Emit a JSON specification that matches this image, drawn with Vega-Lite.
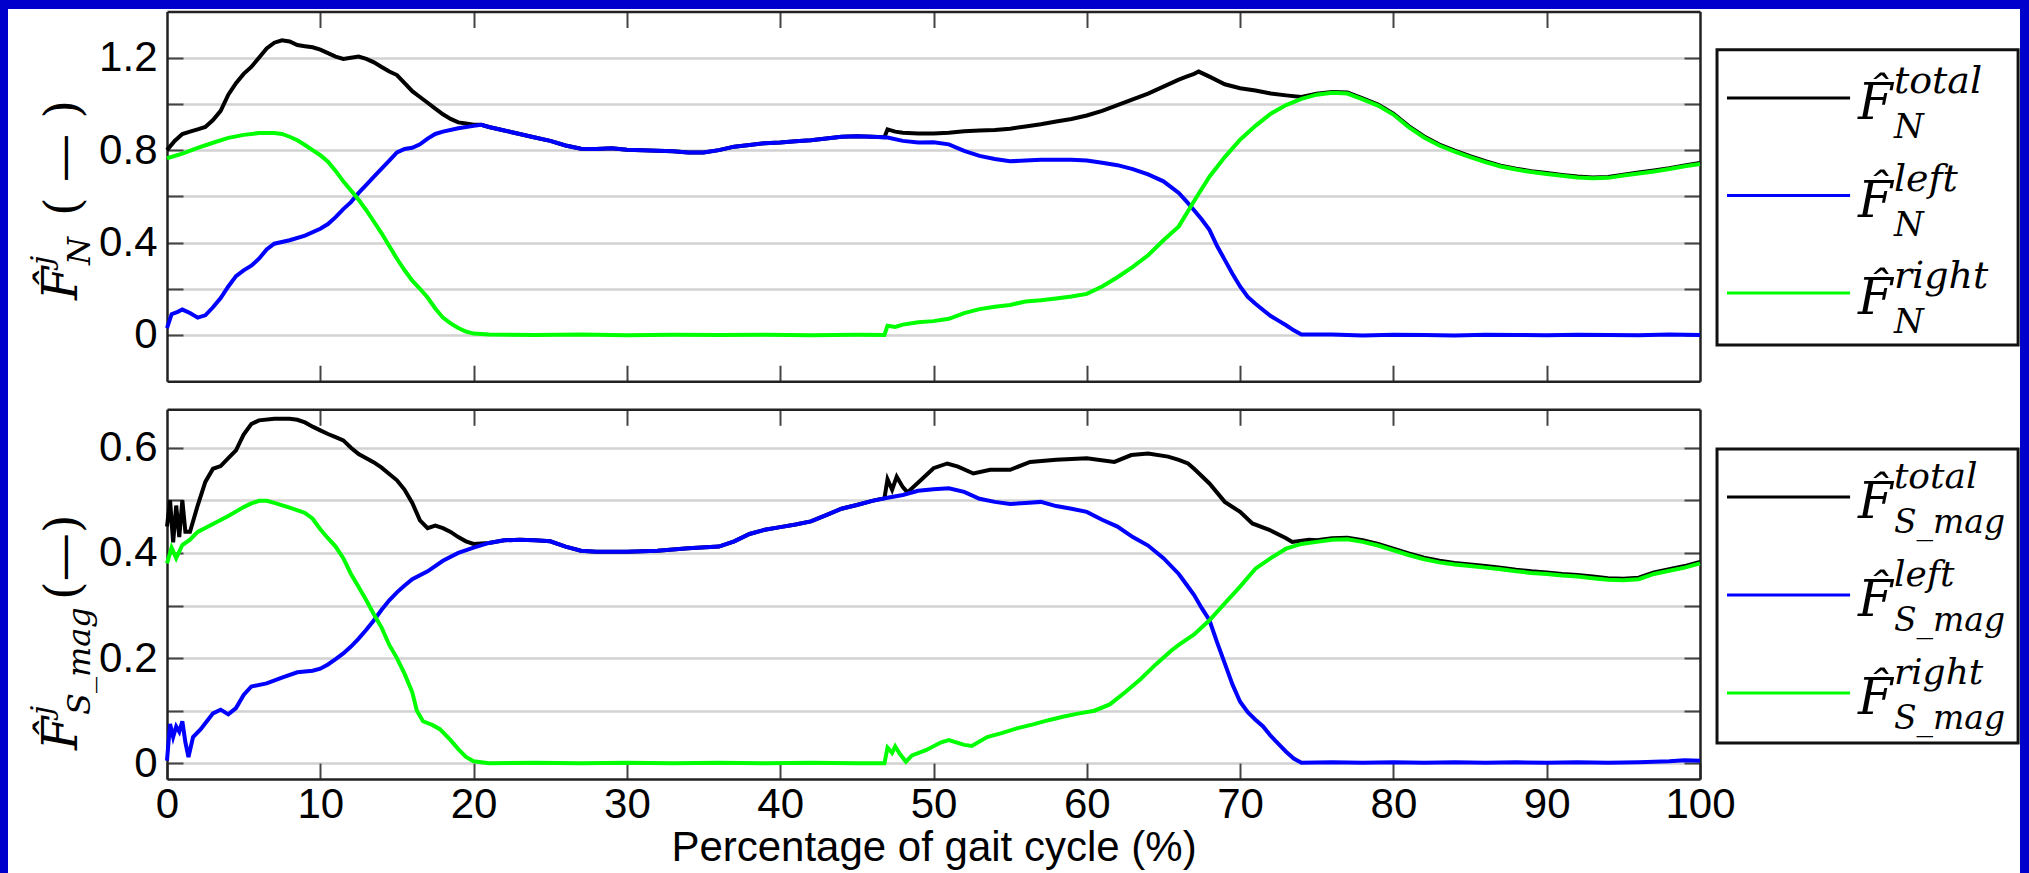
{
"$schema": "https://vega.github.io/schema/vega-lite/v6.json",
"width": 2012, "height": 864,
"autosize": {"type": "none"},
"padding": {"left": 8, "top": 9, "right": 9, "bottom": 0},
"background": "#0000cc",
"config": {
  "view": {"fill": "white", "stroke": null},
  "axis": {"labelFont": "Liberation Sans", "labelFontSize": 42, "labelColor": "#000000", "titleFont": "Liberation Sans", "titleFontSize": 42, "titleFontWeight": "normal", "titleColor": "#000000", "domainColor": "#222222", "domainWidth": 2.5, "tickColor": "#444444", "tickWidth": 2, "gridColor": "#d2d2d2", "gridWidth": 2.5, "labelFlush": false, "labelOverlap": false}
},
"datasets": {
"legend": [
 {"panel":"N","series":"total","sup":"total","sub":"N"},
 {"panel":"N","series":"left","sup":"left","sub":"N"},
 {"panel":"N","series":"right","sup":"right","sub":"N"},
 {"panel":"S","series":"total","sup":"total","sub":"S_mag"},
 {"panel":"S","series":"left","sup":"left","sub":"S_mag"},
 {"panel":"S","series":"right","sup":"right","sub":"S_mag"}
],
"titles": [{"panel":"N","sub":"N"},{"panel":"S","sub":"S_mag"}],
"curves": [
{"p":"N","s":"total","x":0,"y":0.8},{"p":"N","s":"total","x":0.5,"y":0.84},{"p":"N","s":"total","x":1,"y":0.87},{"p":"N","s":"total","x":1.5,"y":0.88},{"p":"N","s":"total","x":2,"y":0.89},{"p":"N","s":"total","x":2.5,"y":0.9},{"p":"N","s":"total","x":3,"y":0.93},{"p":"N","s":"total","x":3.5,"y":0.97},{"p":"N","s":"total","x":4,"y":1.04},{"p":"N","s":"total","x":4.5,"y":1.09},{"p":"N","s":"total","x":5,"y":1.13},{"p":"N","s":"total","x":5.5,"y":1.16},{"p":"N","s":"total","x":6,"y":1.2},{"p":"N","s":"total","x":6.5,"y":1.24},{"p":"N","s":"total","x":7,"y":1.265},{"p":"N","s":"total","x":7.5,"y":1.275},{"p":"N","s":"total","x":8,"y":1.27},{"p":"N","s":"total","x":8.5,"y":1.255},{"p":"N","s":"total","x":9,"y":1.25},{"p":"N","s":"total","x":9.5,"y":1.245},{"p":"N","s":"total","x":10,"y":1.235},{"p":"N","s":"total","x":10.5,"y":1.22},{"p":"N","s":"total","x":11,"y":1.205},{"p":"N","s":"total","x":11.5,"y":1.195},{"p":"N","s":"total","x":12,"y":1.2},{"p":"N","s":"total","x":12.5,"y":1.205},{"p":"N","s":"total","x":13,"y":1.195},{"p":"N","s":"total","x":13.5,"y":1.18},{"p":"N","s":"total","x":14,"y":1.16},{"p":"N","s":"total","x":14.5,"y":1.14},{"p":"N","s":"total","x":15,"y":1.125},{"p":"N","s":"total","x":15.5,"y":1.09},{"p":"N","s":"total","x":16,"y":1.055},{"p":"N","s":"total","x":16.5,"y":1.03},{"p":"N","s":"total","x":17,"y":1.005},{"p":"N","s":"total","x":17.5,"y":0.98},{"p":"N","s":"total","x":18,"y":0.955},{"p":"N","s":"total","x":18.5,"y":0.935},{"p":"N","s":"total","x":19,"y":0.92},{"p":"N","s":"total","x":19.5,"y":0.915},{"p":"N","s":"total","x":20,"y":0.91},{"p":"N","s":"total","x":20.5,"y":0.91},{"p":"N","s":"total","x":21,"y":0.9},{"p":"N","s":"total","x":22,"y":0.885},{"p":"N","s":"total","x":23,"y":0.87},{"p":"N","s":"total","x":24,"y":0.855},{"p":"N","s":"total","x":25,"y":0.84},{"p":"N","s":"total","x":26,"y":0.82},{"p":"N","s":"total","x":27,"y":0.806},{"p":"N","s":"total","x":28,"y":0.805},{"p":"N","s":"total","x":29,"y":0.808},{"p":"N","s":"total","x":30,"y":0.802},{"p":"N","s":"total","x":31,"y":0.8},{"p":"N","s":"total","x":32,"y":0.797},{"p":"N","s":"total","x":33,"y":0.795},{"p":"N","s":"total","x":34,"y":0.79},{"p":"N","s":"total","x":35,"y":0.79},{"p":"N","s":"total","x":36,"y":0.8},{"p":"N","s":"total","x":37,"y":0.815},{"p":"N","s":"total","x":38,"y":0.822},{"p":"N","s":"total","x":39,"y":0.83},{"p":"N","s":"total","x":40,"y":0.833},{"p":"N","s":"total","x":41,"y":0.838},{"p":"N","s":"total","x":42,"y":0.843},{"p":"N","s":"total","x":43,"y":0.85},{"p":"N","s":"total","x":44,"y":0.858},{"p":"N","s":"total","x":45,"y":0.86},{"p":"N","s":"total","x":46,"y":0.858},{"p":"N","s":"total","x":46.8,"y":0.856},{"p":"N","s":"total","x":47,"y":0.89},{"p":"N","s":"total","x":47.5,"y":0.88},{"p":"N","s":"total","x":48,"y":0.875},{"p":"N","s":"total","x":49,"y":0.872},{"p":"N","s":"total","x":50,"y":0.872},{"p":"N","s":"total","x":51,"y":0.875},{"p":"N","s":"total","x":52,"y":0.882},{"p":"N","s":"total","x":53,"y":0.885},{"p":"N","s":"total","x":54,"y":0.887},{"p":"N","s":"total","x":55,"y":0.893},{"p":"N","s":"total","x":56,"y":0.902},{"p":"N","s":"total","x":57,"y":0.912},{"p":"N","s":"total","x":58,"y":0.924},{"p":"N","s":"total","x":59,"y":0.935},{"p":"N","s":"total","x":60,"y":0.95},{"p":"N","s":"total","x":61,"y":0.97},{"p":"N","s":"total","x":62,"y":0.995},{"p":"N","s":"total","x":63,"y":1.02},{"p":"N","s":"total","x":64,"y":1.045},{"p":"N","s":"total","x":65,"y":1.075},{"p":"N","s":"total","x":66,"y":1.105},{"p":"N","s":"total","x":66.5,"y":1.118},{"p":"N","s":"total","x":67,"y":1.13},{"p":"N","s":"total","x":67.3,"y":1.14},{"p":"N","s":"total","x":68,"y":1.118},{"p":"N","s":"total","x":69,"y":1.085},{"p":"N","s":"total","x":70,"y":1.068},{"p":"N","s":"total","x":71,"y":1.058},{"p":"N","s":"total","x":72,"y":1.045},{"p":"N","s":"total","x":73,"y":1.037},{"p":"N","s":"total","x":74,"y":1.03},{"p":"N","s":"total","x":75,"y":1.044},{"p":"N","s":"total","x":76,"y":1.052},{"p":"N","s":"total","x":77,"y":1.049},{"p":"N","s":"total","x":78,"y":1.024},{"p":"N","s":"total","x":79,"y":0.997},{"p":"N","s":"total","x":80,"y":0.958},{"p":"N","s":"total","x":81,"y":0.904},{"p":"N","s":"total","x":82,"y":0.859},{"p":"N","s":"total","x":83,"y":0.824},{"p":"N","s":"total","x":84,"y":0.798},{"p":"N","s":"total","x":85,"y":0.774},{"p":"N","s":"total","x":86,"y":0.752},{"p":"N","s":"total","x":87,"y":0.733},{"p":"N","s":"total","x":88,"y":0.72},{"p":"N","s":"total","x":89,"y":0.709},{"p":"N","s":"total","x":90,"y":0.701},{"p":"N","s":"total","x":91,"y":0.693},{"p":"N","s":"total","x":92,"y":0.686},{"p":"N","s":"total","x":93,"y":0.682},{"p":"N","s":"total","x":94,"y":0.684},{"p":"N","s":"total","x":95,"y":0.694},{"p":"N","s":"total","x":96,"y":0.703},{"p":"N","s":"total","x":97,"y":0.712},{"p":"N","s":"total","x":98,"y":0.722},{"p":"N","s":"total","x":99,"y":0.734},{"p":"N","s":"total","x":100,"y":0.744},
{"p":"N","s":"left","x":0,"y":0.03},{"p":"N","s":"left","x":0.3,"y":0.09},{"p":"N","s":"left","x":0.7,"y":0.1},{"p":"N","s":"left","x":1,"y":0.11},{"p":"N","s":"left","x":1.5,"y":0.095},{"p":"N","s":"left","x":2,"y":0.075},{"p":"N","s":"left","x":2.5,"y":0.085},{"p":"N","s":"left","x":3,"y":0.12},{"p":"N","s":"left","x":3.5,"y":0.16},{"p":"N","s":"left","x":4,"y":0.21},{"p":"N","s":"left","x":4.5,"y":0.255},{"p":"N","s":"left","x":5,"y":0.28},{"p":"N","s":"left","x":5.5,"y":0.3},{"p":"N","s":"left","x":6,"y":0.33},{"p":"N","s":"left","x":6.5,"y":0.37},{"p":"N","s":"left","x":7,"y":0.395},{"p":"N","s":"left","x":8,"y":0.41},{"p":"N","s":"left","x":9,"y":0.43},{"p":"N","s":"left","x":10,"y":0.46},{"p":"N","s":"left","x":10.5,"y":0.48},{"p":"N","s":"left","x":11,"y":0.51},{"p":"N","s":"left","x":11.5,"y":0.545},{"p":"N","s":"left","x":12,"y":0.575},{"p":"N","s":"left","x":12.5,"y":0.615},{"p":"N","s":"left","x":13,"y":0.65},{"p":"N","s":"left","x":13.5,"y":0.685},{"p":"N","s":"left","x":14,"y":0.72},{"p":"N","s":"left","x":14.5,"y":0.755},{"p":"N","s":"left","x":15,"y":0.79},{"p":"N","s":"left","x":15.5,"y":0.805},{"p":"N","s":"left","x":16,"y":0.81},{"p":"N","s":"left","x":16.5,"y":0.825},{"p":"N","s":"left","x":17,"y":0.85},{"p":"N","s":"left","x":17.5,"y":0.87},{"p":"N","s":"left","x":18,"y":0.88},{"p":"N","s":"left","x":19,"y":0.895},{"p":"N","s":"left","x":20,"y":0.905},{"p":"N","s":"left","x":20.5,"y":0.91},{"p":"N","s":"left","x":21,"y":0.9},{"p":"N","s":"left","x":22,"y":0.885},{"p":"N","s":"left","x":23,"y":0.87},{"p":"N","s":"left","x":24,"y":0.855},{"p":"N","s":"left","x":25,"y":0.84},{"p":"N","s":"left","x":26,"y":0.82},{"p":"N","s":"left","x":27,"y":0.806},{"p":"N","s":"left","x":28,"y":0.805},{"p":"N","s":"left","x":29,"y":0.808},{"p":"N","s":"left","x":30,"y":0.802},{"p":"N","s":"left","x":31,"y":0.8},{"p":"N","s":"left","x":32,"y":0.797},{"p":"N","s":"left","x":33,"y":0.795},{"p":"N","s":"left","x":34,"y":0.79},{"p":"N","s":"left","x":35,"y":0.79},{"p":"N","s":"left","x":36,"y":0.8},{"p":"N","s":"left","x":37,"y":0.815},{"p":"N","s":"left","x":38,"y":0.822},{"p":"N","s":"left","x":39,"y":0.83},{"p":"N","s":"left","x":40,"y":0.833},{"p":"N","s":"left","x":41,"y":0.838},{"p":"N","s":"left","x":42,"y":0.843},{"p":"N","s":"left","x":43,"y":0.85},{"p":"N","s":"left","x":44,"y":0.858},{"p":"N","s":"left","x":45,"y":0.86},{"p":"N","s":"left","x":46,"y":0.858},{"p":"N","s":"left","x":47,"y":0.855},{"p":"N","s":"left","x":48,"y":0.84},{"p":"N","s":"left","x":49,"y":0.833},{"p":"N","s":"left","x":50,"y":0.834},{"p":"N","s":"left","x":51,"y":0.825},{"p":"N","s":"left","x":52,"y":0.797},{"p":"N","s":"left","x":53,"y":0.775},{"p":"N","s":"left","x":54,"y":0.762},{"p":"N","s":"left","x":55,"y":0.752},{"p":"N","s":"left","x":56,"y":0.755},{"p":"N","s":"left","x":57,"y":0.758},{"p":"N","s":"left","x":58,"y":0.758},{"p":"N","s":"left","x":59,"y":0.758},{"p":"N","s":"left","x":60,"y":0.755},{"p":"N","s":"left","x":61,"y":0.745},{"p":"N","s":"left","x":62,"y":0.735},{"p":"N","s":"left","x":63,"y":0.718},{"p":"N","s":"left","x":64,"y":0.695},{"p":"N","s":"left","x":65,"y":0.665},{"p":"N","s":"left","x":66,"y":0.615},{"p":"N","s":"left","x":66.5,"y":0.578},{"p":"N","s":"left","x":67,"y":0.54},{"p":"N","s":"left","x":67.5,"y":0.5},{"p":"N","s":"left","x":68,"y":0.455},{"p":"N","s":"left","x":68.5,"y":0.385},{"p":"N","s":"left","x":69,"y":0.325},{"p":"N","s":"left","x":69.5,"y":0.265},{"p":"N","s":"left","x":70,"y":0.21},{"p":"N","s":"left","x":70.5,"y":0.165},{"p":"N","s":"left","x":71,"y":0.135},{"p":"N","s":"left","x":71.5,"y":0.108},{"p":"N","s":"left","x":72,"y":0.082},{"p":"N","s":"left","x":72.5,"y":0.062},{"p":"N","s":"left","x":73,"y":0.042},{"p":"N","s":"left","x":73.5,"y":0.02},{"p":"N","s":"left","x":74,"y":0.002},{"p":"N","s":"left","x":76,"y":0.002},{"p":"N","s":"left","x":78,"y":-0.002},{"p":"N","s":"left","x":80,"y":0.001},{"p":"N","s":"left","x":82,"y":0},{"p":"N","s":"left","x":84,"y":-0.002},{"p":"N","s":"left","x":86,"y":0.001},{"p":"N","s":"left","x":88,"y":0},{"p":"N","s":"left","x":90,"y":-0.001},{"p":"N","s":"left","x":92,"y":0.001},{"p":"N","s":"left","x":94,"y":0},{"p":"N","s":"left","x":96,"y":-0.001},{"p":"N","s":"left","x":98,"y":0.002},{"p":"N","s":"left","x":100,"y":0},
{"p":"N","s":"right","x":0,"y":0.765},{"p":"N","s":"right","x":1,"y":0.785},{"p":"N","s":"right","x":2,"y":0.81},{"p":"N","s":"right","x":3,"y":0.832},{"p":"N","s":"right","x":4,"y":0.853},{"p":"N","s":"right","x":5,"y":0.866},{"p":"N","s":"right","x":6,"y":0.874},{"p":"N","s":"right","x":7,"y":0.874},{"p":"N","s":"right","x":7.5,"y":0.87},{"p":"N","s":"right","x":8,"y":0.858},{"p":"N","s":"right","x":8.5,"y":0.843},{"p":"N","s":"right","x":9,"y":0.822},{"p":"N","s":"right","x":9.5,"y":0.8},{"p":"N","s":"right","x":10,"y":0.778},{"p":"N","s":"right","x":10.5,"y":0.75},{"p":"N","s":"right","x":11,"y":0.71},{"p":"N","s":"right","x":11.5,"y":0.665},{"p":"N","s":"right","x":12,"y":0.625},{"p":"N","s":"right","x":12.5,"y":0.585},{"p":"N","s":"right","x":13,"y":0.54},{"p":"N","s":"right","x":13.5,"y":0.49},{"p":"N","s":"right","x":14,"y":0.44},{"p":"N","s":"right","x":14.5,"y":0.385},{"p":"N","s":"right","x":15,"y":0.33},{"p":"N","s":"right","x":15.5,"y":0.28},{"p":"N","s":"right","x":16,"y":0.235},{"p":"N","s":"right","x":16.5,"y":0.2},{"p":"N","s":"right","x":17,"y":0.162},{"p":"N","s":"right","x":17.5,"y":0.115},{"p":"N","s":"right","x":18,"y":0.075},{"p":"N","s":"right","x":18.5,"y":0.05},{"p":"N","s":"right","x":19,"y":0.03},{"p":"N","s":"right","x":19.5,"y":0.015},{"p":"N","s":"right","x":20,"y":0.006},{"p":"N","s":"right","x":21,"y":0.002},{"p":"N","s":"right","x":24,"y":0},{"p":"N","s":"right","x":27,"y":0.002},{"p":"N","s":"right","x":30,"y":-0.001},{"p":"N","s":"right","x":33,"y":0.001},{"p":"N","s":"right","x":36,"y":0},{"p":"N","s":"right","x":39,"y":0.001},{"p":"N","s":"right","x":42,"y":-0.001},{"p":"N","s":"right","x":45,"y":0.001},{"p":"N","s":"right","x":46.8,"y":0},{"p":"N","s":"right","x":47,"y":0.04},{"p":"N","s":"right","x":47.5,"y":0.035},{"p":"N","s":"right","x":48,"y":0.045},{"p":"N","s":"right","x":49,"y":0.055},{"p":"N","s":"right","x":50,"y":0.06},{"p":"N","s":"right","x":51,"y":0.07},{"p":"N","s":"right","x":52,"y":0.095},{"p":"N","s":"right","x":53,"y":0.112},{"p":"N","s":"right","x":54,"y":0.122},{"p":"N","s":"right","x":55,"y":0.13},{"p":"N","s":"right","x":56,"y":0.145},{"p":"N","s":"right","x":57,"y":0.15},{"p":"N","s":"right","x":58,"y":0.158},{"p":"N","s":"right","x":59,"y":0.167},{"p":"N","s":"right","x":60,"y":0.178},{"p":"N","s":"right","x":61,"y":0.21},{"p":"N","s":"right","x":62,"y":0.25},{"p":"N","s":"right","x":63,"y":0.295},{"p":"N","s":"right","x":64,"y":0.345},{"p":"N","s":"right","x":65,"y":0.41},{"p":"N","s":"right","x":66,"y":0.47},{"p":"N","s":"right","x":67,"y":0.58},{"p":"N","s":"right","x":68,"y":0.685},{"p":"N","s":"right","x":69,"y":0.77},{"p":"N","s":"right","x":70,"y":0.845},{"p":"N","s":"right","x":71,"y":0.905},{"p":"N","s":"right","x":72,"y":0.958},{"p":"N","s":"right","x":73,"y":0.995},{"p":"N","s":"right","x":74,"y":1.022},{"p":"N","s":"right","x":75,"y":1.04},{"p":"N","s":"right","x":76,"y":1.048},{"p":"N","s":"right","x":77,"y":1.045},{"p":"N","s":"right","x":78,"y":1.02},{"p":"N","s":"right","x":79,"y":0.993},{"p":"N","s":"right","x":80,"y":0.954},{"p":"N","s":"right","x":81,"y":0.9},{"p":"N","s":"right","x":82,"y":0.855},{"p":"N","s":"right","x":83,"y":0.82},{"p":"N","s":"right","x":84,"y":0.794},{"p":"N","s":"right","x":85,"y":0.77},{"p":"N","s":"right","x":86,"y":0.748},{"p":"N","s":"right","x":87,"y":0.729},{"p":"N","s":"right","x":88,"y":0.716},{"p":"N","s":"right","x":89,"y":0.705},{"p":"N","s":"right","x":90,"y":0.697},{"p":"N","s":"right","x":91,"y":0.689},{"p":"N","s":"right","x":92,"y":0.682},{"p":"N","s":"right","x":93,"y":0.678},{"p":"N","s":"right","x":94,"y":0.68},{"p":"N","s":"right","x":95,"y":0.69},{"p":"N","s":"right","x":96,"y":0.699},{"p":"N","s":"right","x":97,"y":0.708},{"p":"N","s":"right","x":98,"y":0.718},{"p":"N","s":"right","x":99,"y":0.73},{"p":"N","s":"right","x":100,"y":0.74},
{"p":"S","s":"total","x":0,"y":0.45},{"p":"S","s":"total","x":0.2,"y":0.5},{"p":"S","s":"total","x":0.4,"y":0.42},{"p":"S","s":"total","x":0.6,"y":0.49},{"p":"S","s":"total","x":0.8,"y":0.43},{"p":"S","s":"total","x":1,"y":0.5},{"p":"S","s":"total","x":1.2,"y":0.44},{"p":"S","s":"total","x":1.5,"y":0.44},{"p":"S","s":"total","x":2,"y":0.49},{"p":"S","s":"total","x":2.5,"y":0.535},{"p":"S","s":"total","x":3,"y":0.56},{"p":"S","s":"total","x":3.5,"y":0.565},{"p":"S","s":"total","x":4,"y":0.58},{"p":"S","s":"total","x":4.5,"y":0.595},{"p":"S","s":"total","x":5,"y":0.625},{"p":"S","s":"total","x":5.5,"y":0.645},{"p":"S","s":"total","x":6,"y":0.652},{"p":"S","s":"total","x":7,"y":0.655},{"p":"S","s":"total","x":8,"y":0.655},{"p":"S","s":"total","x":8.5,"y":0.653},{"p":"S","s":"total","x":9,"y":0.648},{"p":"S","s":"total","x":9.5,"y":0.64},{"p":"S","s":"total","x":10,"y":0.633},{"p":"S","s":"total","x":10.5,"y":0.626},{"p":"S","s":"total","x":11,"y":0.62},{"p":"S","s":"total","x":11.5,"y":0.614},{"p":"S","s":"total","x":12,"y":0.6},{"p":"S","s":"total","x":12.5,"y":0.588},{"p":"S","s":"total","x":13,"y":0.58},{"p":"S","s":"total","x":13.5,"y":0.572},{"p":"S","s":"total","x":14,"y":0.562},{"p":"S","s":"total","x":14.5,"y":0.55},{"p":"S","s":"total","x":15,"y":0.538},{"p":"S","s":"total","x":15.5,"y":0.52},{"p":"S","s":"total","x":16,"y":0.495},{"p":"S","s":"total","x":16.5,"y":0.462},{"p":"S","s":"total","x":17,"y":0.447},{"p":"S","s":"total","x":17.5,"y":0.452},{"p":"S","s":"total","x":18,"y":0.447},{"p":"S","s":"total","x":18.5,"y":0.44},{"p":"S","s":"total","x":19,"y":0.43},{"p":"S","s":"total","x":19.5,"y":0.422},{"p":"S","s":"total","x":20,"y":0.417},{"p":"S","s":"total","x":21,"y":0.419},{"p":"S","s":"total","x":22,"y":0.424},{"p":"S","s":"total","x":23,"y":0.425},{"p":"S","s":"total","x":24,"y":0.424},{"p":"S","s":"total","x":25,"y":0.422},{"p":"S","s":"total","x":26,"y":0.412},{"p":"S","s":"total","x":27,"y":0.404},{"p":"S","s":"total","x":28,"y":0.402},{"p":"S","s":"total","x":30,"y":0.402},{"p":"S","s":"total","x":32,"y":0.404},{"p":"S","s":"total","x":34,"y":0.409},{"p":"S","s":"total","x":36,"y":0.412},{"p":"S","s":"total","x":37,"y":0.422},{"p":"S","s":"total","x":38,"y":0.436},{"p":"S","s":"total","x":39,"y":0.444},{"p":"S","s":"total","x":40,"y":0.449},{"p":"S","s":"total","x":41,"y":0.454},{"p":"S","s":"total","x":42,"y":0.46},{"p":"S","s":"total","x":43,"y":0.472},{"p":"S","s":"total","x":44,"y":0.484},{"p":"S","s":"total","x":45,"y":0.491},{"p":"S","s":"total","x":46,"y":0.499},{"p":"S","s":"total","x":46.8,"y":0.504},{"p":"S","s":"total","x":47,"y":0.54},{"p":"S","s":"total","x":47.3,"y":0.52},{"p":"S","s":"total","x":47.6,"y":0.545},{"p":"S","s":"total","x":48,"y":0.525},{"p":"S","s":"total","x":48.3,"y":0.515},{"p":"S","s":"total","x":49.2,"y":0.539},{"p":"S","s":"total","x":50,"y":0.561},{"p":"S","s":"total","x":50.9,"y":0.57},{"p":"S","s":"total","x":51.6,"y":0.564},{"p":"S","s":"total","x":52.6,"y":0.551},{"p":"S","s":"total","x":53.7,"y":0.558},{"p":"S","s":"total","x":55,"y":0.558},{"p":"S","s":"total","x":56.3,"y":0.573},{"p":"S","s":"total","x":58,"y":0.577},{"p":"S","s":"total","x":60,"y":0.58},{"p":"S","s":"total","x":61.8,"y":0.573},{"p":"S","s":"total","x":62.9,"y":0.586},{"p":"S","s":"total","x":64,"y":0.589},{"p":"S","s":"total","x":65.3,"y":0.583},{"p":"S","s":"total","x":66,"y":0.577},{"p":"S","s":"total","x":66.6,"y":0.57},{"p":"S","s":"total","x":67,"y":0.56},{"p":"S","s":"total","x":68,"y":0.532},{"p":"S","s":"total","x":69,"y":0.497},{"p":"S","s":"total","x":70,"y":0.478},{"p":"S","s":"total","x":70.8,"y":0.456},{"p":"S","s":"total","x":71.9,"y":0.444},{"p":"S","s":"total","x":73,"y":0.428},{"p":"S","s":"total","x":73.4,"y":0.421},{"p":"S","s":"total","x":74.5,"y":0.425},{"p":"S","s":"total","x":75,"y":0.424},{"p":"S","s":"total","x":76,"y":0.428},{"p":"S","s":"total","x":77,"y":0.429},{"p":"S","s":"total","x":78,"y":0.424},{"p":"S","s":"total","x":79,"y":0.417},{"p":"S","s":"total","x":80,"y":0.408},{"p":"S","s":"total","x":81,"y":0.399},{"p":"S","s":"total","x":82,"y":0.391},{"p":"S","s":"total","x":83,"y":0.385},{"p":"S","s":"total","x":84,"y":0.381},{"p":"S","s":"total","x":85,"y":0.378},{"p":"S","s":"total","x":86,"y":0.375},{"p":"S","s":"total","x":87,"y":0.372},{"p":"S","s":"total","x":88,"y":0.368},{"p":"S","s":"total","x":89,"y":0.365},{"p":"S","s":"total","x":90,"y":0.363},{"p":"S","s":"total","x":91,"y":0.36},{"p":"S","s":"total","x":92,"y":0.358},{"p":"S","s":"total","x":93,"y":0.355},{"p":"S","s":"total","x":94,"y":0.352},{"p":"S","s":"total","x":95,"y":0.351},{"p":"S","s":"total","x":96,"y":0.353},{"p":"S","s":"total","x":97,"y":0.363},{"p":"S","s":"total","x":98,"y":0.369},{"p":"S","s":"total","x":99,"y":0.375},{"p":"S","s":"total","x":100,"y":0.383},
{"p":"S","s":"left","x":0,"y":0.005},{"p":"S","s":"left","x":0.2,"y":0.075},{"p":"S","s":"left","x":0.4,"y":0.05},{"p":"S","s":"left","x":0.6,"y":0.07},{"p":"S","s":"left","x":0.8,"y":0.06},{"p":"S","s":"left","x":1,"y":0.08},{"p":"S","s":"left","x":1.2,"y":0.04},{"p":"S","s":"left","x":1.4,"y":0.012},{"p":"S","s":"left","x":1.7,"y":0.05},{"p":"S","s":"left","x":2.2,"y":0.065},{"p":"S","s":"left","x":2.6,"y":0.08},{"p":"S","s":"left","x":3,"y":0.095},{"p":"S","s":"left","x":3.5,"y":0.102},{"p":"S","s":"left","x":4,"y":0.093},{"p":"S","s":"left","x":4.5,"y":0.105},{"p":"S","s":"left","x":5,"y":0.13},{"p":"S","s":"left","x":5.5,"y":0.146},{"p":"S","s":"left","x":6.5,"y":0.152},{"p":"S","s":"left","x":7.5,"y":0.163},{"p":"S","s":"left","x":8.5,"y":0.173},{"p":"S","s":"left","x":9.5,"y":0.176},{"p":"S","s":"left","x":10,"y":0.18},{"p":"S","s":"left","x":10.5,"y":0.188},{"p":"S","s":"left","x":11,"y":0.198},{"p":"S","s":"left","x":11.5,"y":0.209},{"p":"S","s":"left","x":12,"y":0.222},{"p":"S","s":"left","x":12.5,"y":0.237},{"p":"S","s":"left","x":13,"y":0.254},{"p":"S","s":"left","x":13.5,"y":0.272},{"p":"S","s":"left","x":14,"y":0.292},{"p":"S","s":"left","x":14.5,"y":0.31},{"p":"S","s":"left","x":15,"y":0.325},{"p":"S","s":"left","x":15.5,"y":0.338},{"p":"S","s":"left","x":16,"y":0.35},{"p":"S","s":"left","x":17,"y":0.365},{"p":"S","s":"left","x":18,"y":0.385},{"p":"S","s":"left","x":19,"y":0.4},{"p":"S","s":"left","x":20,"y":0.41},{"p":"S","s":"left","x":21,"y":0.419},{"p":"S","s":"left","x":22,"y":0.424},{"p":"S","s":"left","x":23,"y":0.425},{"p":"S","s":"left","x":24,"y":0.424},{"p":"S","s":"left","x":25,"y":0.422},{"p":"S","s":"left","x":26,"y":0.412},{"p":"S","s":"left","x":27,"y":0.404},{"p":"S","s":"left","x":28,"y":0.402},{"p":"S","s":"left","x":30,"y":0.402},{"p":"S","s":"left","x":32,"y":0.404},{"p":"S","s":"left","x":34,"y":0.409},{"p":"S","s":"left","x":36,"y":0.412},{"p":"S","s":"left","x":37,"y":0.422},{"p":"S","s":"left","x":38,"y":0.436},{"p":"S","s":"left","x":39,"y":0.444},{"p":"S","s":"left","x":40,"y":0.449},{"p":"S","s":"left","x":41,"y":0.454},{"p":"S","s":"left","x":42,"y":0.46},{"p":"S","s":"left","x":43,"y":0.472},{"p":"S","s":"left","x":44,"y":0.484},{"p":"S","s":"left","x":45,"y":0.491},{"p":"S","s":"left","x":46,"y":0.499},{"p":"S","s":"left","x":47,"y":0.505},{"p":"S","s":"left","x":48,"y":0.51},{"p":"S","s":"left","x":49,"y":0.518},{"p":"S","s":"left","x":50,"y":0.521},{"p":"S","s":"left","x":51,"y":0.523},{"p":"S","s":"left","x":52,"y":0.516},{"p":"S","s":"left","x":53,"y":0.503},{"p":"S","s":"left","x":54,"y":0.497},{"p":"S","s":"left","x":55,"y":0.493},{"p":"S","s":"left","x":56,"y":0.495},{"p":"S","s":"left","x":57,"y":0.497},{"p":"S","s":"left","x":58,"y":0.489},{"p":"S","s":"left","x":59,"y":0.484},{"p":"S","s":"left","x":60,"y":0.478},{"p":"S","s":"left","x":61,"y":0.463},{"p":"S","s":"left","x":62,"y":0.45},{"p":"S","s":"left","x":63,"y":0.43},{"p":"S","s":"left","x":64,"y":0.414},{"p":"S","s":"left","x":65,"y":0.39},{"p":"S","s":"left","x":66,"y":0.36},{"p":"S","s":"left","x":66.5,"y":0.34},{"p":"S","s":"left","x":67,"y":0.32},{"p":"S","s":"left","x":67.5,"y":0.295},{"p":"S","s":"left","x":68,"y":0.272},{"p":"S","s":"left","x":68.5,"y":0.23},{"p":"S","s":"left","x":69,"y":0.19},{"p":"S","s":"left","x":69.5,"y":0.15},{"p":"S","s":"left","x":70,"y":0.117},{"p":"S","s":"left","x":70.5,"y":0.097},{"p":"S","s":"left","x":71,"y":0.083},{"p":"S","s":"left","x":71.5,"y":0.07},{"p":"S","s":"left","x":72,"y":0.052},{"p":"S","s":"left","x":72.5,"y":0.037},{"p":"S","s":"left","x":73,"y":0.022},{"p":"S","s":"left","x":73.5,"y":0.009},{"p":"S","s":"left","x":74,"y":0.001},{"p":"S","s":"left","x":76,"y":0.002},{"p":"S","s":"left","x":78,"y":0.001},{"p":"S","s":"left","x":80,"y":0.002},{"p":"S","s":"left","x":82,"y":0.001},{"p":"S","s":"left","x":84,"y":0.002},{"p":"S","s":"left","x":86,"y":0.001},{"p":"S","s":"left","x":88,"y":0.002},{"p":"S","s":"left","x":90,"y":0.001},{"p":"S","s":"left","x":92,"y":0.002},{"p":"S","s":"left","x":94,"y":0.001},{"p":"S","s":"left","x":96,"y":0.002},{"p":"S","s":"left","x":98,"y":0.004},{"p":"S","s":"left","x":99,"y":0.006},{"p":"S","s":"left","x":100,"y":0.005},
{"p":"S","s":"right","x":0,"y":0.38},{"p":"S","s":"right","x":0.3,"y":0.41},{"p":"S","s":"right","x":0.6,"y":0.39},{"p":"S","s":"right","x":1,"y":0.415},{"p":"S","s":"right","x":1.5,"y":0.425},{"p":"S","s":"right","x":2,"y":0.44},{"p":"S","s":"right","x":3,"y":0.455},{"p":"S","s":"right","x":4,"y":0.47},{"p":"S","s":"right","x":5,"y":0.487},{"p":"S","s":"right","x":5.5,"y":0.494},{"p":"S","s":"right","x":6,"y":0.499},{"p":"S","s":"right","x":6.5,"y":0.499},{"p":"S","s":"right","x":7,"y":0.495},{"p":"S","s":"right","x":8,"y":0.486},{"p":"S","s":"right","x":9,"y":0.476},{"p":"S","s":"right","x":9.5,"y":0.465},{"p":"S","s":"right","x":10,"y":0.445},{"p":"S","s":"right","x":10.5,"y":0.428},{"p":"S","s":"right","x":11,"y":0.412},{"p":"S","s":"right","x":11.5,"y":0.39},{"p":"S","s":"right","x":12,"y":0.36},{"p":"S","s":"right","x":12.5,"y":0.335},{"p":"S","s":"right","x":13,"y":0.31},{"p":"S","s":"right","x":13.5,"y":0.283},{"p":"S","s":"right","x":14,"y":0.258},{"p":"S","s":"right","x":14.5,"y":0.225},{"p":"S","s":"right","x":15,"y":0.2},{"p":"S","s":"right","x":15.5,"y":0.17},{"p":"S","s":"right","x":16,"y":0.135},{"p":"S","s":"right","x":16.3,"y":0.1},{"p":"S","s":"right","x":16.7,"y":0.08},{"p":"S","s":"right","x":17.3,"y":0.073},{"p":"S","s":"right","x":17.8,"y":0.065},{"p":"S","s":"right","x":18.5,"y":0.044},{"p":"S","s":"right","x":19,"y":0.027},{"p":"S","s":"right","x":19.5,"y":0.012},{"p":"S","s":"right","x":20,"y":0.004},{"p":"S","s":"right","x":21,"y":0},{"p":"S","s":"right","x":24,"y":0.001},{"p":"S","s":"right","x":27,"y":0},{"p":"S","s":"right","x":30,"y":0.001},{"p":"S","s":"right","x":33,"y":0},{"p":"S","s":"right","x":36,"y":0.001},{"p":"S","s":"right","x":39,"y":0},{"p":"S","s":"right","x":42,"y":0.001},{"p":"S","s":"right","x":45,"y":0},{"p":"S","s":"right","x":46.8,"y":0},{"p":"S","s":"right","x":47,"y":0.03},{"p":"S","s":"right","x":47.3,"y":0.02},{"p":"S","s":"right","x":47.5,"y":0.032},{"p":"S","s":"right","x":47.8,"y":0.018},{"p":"S","s":"right","x":48.2,"y":0.003},{"p":"S","s":"right","x":48.6,"y":0.015},{"p":"S","s":"right","x":49.5,"y":0.025},{"p":"S","s":"right","x":50.5,"y":0.04},{"p":"S","s":"right","x":51,"y":0.044},{"p":"S","s":"right","x":52,"y":0.035},{"p":"S","s":"right","x":52.5,"y":0.033},{"p":"S","s":"right","x":53.5,"y":0.05},{"p":"S","s":"right","x":54.5,"y":0.058},{"p":"S","s":"right","x":55.5,"y":0.067},{"p":"S","s":"right","x":56.5,"y":0.074},{"p":"S","s":"right","x":57.5,"y":0.082},{"p":"S","s":"right","x":58.5,"y":0.089},{"p":"S","s":"right","x":59.5,"y":0.095},{"p":"S","s":"right","x":60.5,"y":0.1},{"p":"S","s":"right","x":61.5,"y":0.112},{"p":"S","s":"right","x":62.5,"y":0.135},{"p":"S","s":"right","x":63.5,"y":0.16},{"p":"S","s":"right","x":64.5,"y":0.188},{"p":"S","s":"right","x":65.5,"y":0.214},{"p":"S","s":"right","x":66,"y":0.225},{"p":"S","s":"right","x":67,"y":0.245},{"p":"S","s":"right","x":68,"y":0.272},{"p":"S","s":"right","x":69,"y":0.304},{"p":"S","s":"right","x":70,"y":0.336},{"p":"S","s":"right","x":71,"y":0.37},{"p":"S","s":"right","x":72,"y":0.39},{"p":"S","s":"right","x":73,"y":0.408},{"p":"S","s":"right","x":74,"y":0.417},{"p":"S","s":"right","x":75,"y":0.421},{"p":"S","s":"right","x":76,"y":0.425},{"p":"S","s":"right","x":77,"y":0.426},{"p":"S","s":"right","x":78,"y":0.421},{"p":"S","s":"right","x":79,"y":0.414},{"p":"S","s":"right","x":80,"y":0.405},{"p":"S","s":"right","x":81,"y":0.396},{"p":"S","s":"right","x":82,"y":0.388},{"p":"S","s":"right","x":83,"y":0.382},{"p":"S","s":"right","x":84,"y":0.378},{"p":"S","s":"right","x":85,"y":0.375},{"p":"S","s":"right","x":86,"y":0.372},{"p":"S","s":"right","x":87,"y":0.369},{"p":"S","s":"right","x":88,"y":0.365},{"p":"S","s":"right","x":89,"y":0.362},{"p":"S","s":"right","x":90,"y":0.36},{"p":"S","s":"right","x":91,"y":0.357},{"p":"S","s":"right","x":92,"y":0.355},{"p":"S","s":"right","x":93,"y":0.352},{"p":"S","s":"right","x":94,"y":0.349},{"p":"S","s":"right","x":95,"y":0.348},{"p":"S","s":"right","x":96,"y":0.35},{"p":"S","s":"right","x":97,"y":0.36},{"p":"S","s":"right","x":98,"y":0.366},{"p":"S","s":"right","x":99,"y":0.372},{"p":"S","s":"right","x":100,"y":0.38}
]
},
"resolve": {"scale": {"y": "independent"}, "axis": {"x": "independent", "y": "independent"}},
"layer": [
{"data": {"name": "curves"}, "transform": [{"filter": "datum.p == 'N' && datum.s == 'total'"}],
 "mark": {"type": "line", "color": "#000000", "strokeWidth": 4},
 "encoding": {
  "x": {"field": "x", "type": "quantitative", "scale": {"domain": [0, 100], "range": [159, 1692], "nice": false, "zero": false}, "axis": {"orient": "bottom", "offset": -491.8, "values": [10,20,30,40,50,60,70,80,90], "labels": false, "tickSize": -16, "grid": false, "title": null}},
  "y": {"field": "y", "type": "quantitative", "scale": {"domain": [-0.2, 1.4], "range": [372.2, 2.5], "nice": false, "zero": false}, "axis": {"orient": "left", "offset": -159, "values": [0,0.2,0.4,0.6,0.8,1,1.2], "format": "~g", "labelExpr": "indexof([0,0.4,0.8,1.2], datum.value) >= 0 ? datum.label : ''", "tickSize": -16, "labelPadding": 26, "grid": true, "title": null}}
 }},
{"data": {"name": "curves"}, "transform": [{"filter": "datum.p == 'N' && datum.s == 'left'"}],
 "mark": {"type": "line", "color": "#0000ff", "strokeWidth": 4},
 "encoding": {
  "x": {"field": "x", "type": "quantitative", "scale": {"domain": [0, 100], "range": [159, 1692], "nice": false, "zero": false}, "axis": {"orient": "top", "offset": -2.5, "values": [10,20,30,40,50,60,70,80,90], "labels": false, "tickSize": -16, "grid": false, "title": null}},
  "y": {"field": "y", "type": "quantitative", "scale": {"domain": [-0.2, 1.4], "range": [372.2, 2.5], "nice": false, "zero": false}, "axis": {"orient": "right", "offset": -320, "values": [0,0.2,0.4,0.6,0.8,1,1.2], "labels": false, "tickSize": -16, "grid": false, "title": null}}
 }},
{"data": {"name": "curves"}, "transform": [{"filter": "datum.p == 'N' && datum.s == 'right'"}],
 "mark": {"type": "line", "color": "#00ff00", "strokeWidth": 4},
 "encoding": {
  "x": {"field": "x", "type": "quantitative", "scale": {"domain": [0, 100], "range": [159, 1692], "nice": false, "zero": false}, "axis": null},
  "y": {"field": "y", "type": "quantitative", "scale": {"domain": [-0.2, 1.4], "range": [372.2, 2.5], "nice": false, "zero": false}, "axis": null}
 }},
{"data": {"name": "curves"}, "transform": [{"filter": "datum.p == 'S' && datum.s == 'total'"}],
 "mark": {"type": "line", "color": "#000000", "strokeWidth": 4},
 "encoding": {
  "x": {"field": "x", "type": "quantitative", "scale": {"domain": [0, 100], "range": [159, 1692], "nice": false, "zero": false}, "axis": {"orient": "bottom", "offset": -93.9, "values": [0,10,20,30,40,50,60,70,80,90,100], "format": "d", "tickSize": -16, "labelPadding": 21, "grid": false, "title": "Percentage of gait cycle (%)", "titlePadding": 2}},
  "y": {"field": "y", "type": "quantitative", "scale": {"domain": [-0.03, 0.673], "range": [770.1, 400.3], "nice": false, "zero": false}, "axis": {"orient": "left", "offset": -159, "values": [0,0.1,0.2,0.3,0.4,0.5,0.6], "format": "~g", "labelExpr": "indexof([0,0.2,0.4,0.6], datum.value) >= 0 ? datum.label : ''", "tickSize": -16, "labelPadding": 26, "grid": true, "title": null}}
 }},
{"data": {"name": "curves"}, "transform": [{"filter": "datum.p == 'S' && datum.s == 'left'"}],
 "mark": {"type": "line", "color": "#0000ff", "strokeWidth": 4},
 "encoding": {
  "x": {"field": "x", "type": "quantitative", "scale": {"domain": [0, 100], "range": [159, 1692], "nice": false, "zero": false}, "axis": {"orient": "top", "offset": -400.3, "values": [10,20,30,40,50,60,70,80,90], "labels": false, "tickSize": -16, "grid": false, "title": null}},
  "y": {"field": "y", "type": "quantitative", "scale": {"domain": [-0.03, 0.673], "range": [770.1, 400.3], "nice": false, "zero": false}, "axis": {"orient": "right", "offset": -320, "values": [0,0.1,0.2,0.3,0.4,0.5,0.6], "labels": false, "tickSize": -16, "grid": false, "title": null}}
 }},
{"data": {"name": "curves"}, "transform": [{"filter": "datum.p == 'S' && datum.s == 'right'"}],
 "mark": {"type": "line", "color": "#00ff00", "strokeWidth": 4},
 "encoding": {
  "x": {"field": "x", "type": "quantitative", "scale": {"domain": [0, 100], "range": [159, 1692], "nice": false, "zero": false}, "axis": null},
  "y": {"field": "y", "type": "quantitative", "scale": {"domain": [-0.03, 0.673], "range": [770.1, 400.3], "nice": false, "zero": false}, "axis": null}
 }},
{"data": {"name": "legend"}, "transform": [{"filter": "datum.panel == 'N' && datum.series == 'total'"}],
 "mark": {"type": "rect", "fill": "white", "stroke": "#111111", "strokeWidth": 3},
 "encoding": {
  "x": {"datum": 101.11, "type": "quantitative", "scale": {"domain": [0, 100], "range": [159, 1692], "nice": false, "zero": false}, "axis": null},
  "x2": {"datum": 120.75},
  "y": {"datum": 1.234, "type": "quantitative", "scale": {"domain": [-0.2, 1.4], "range": [372.2, 2.5], "nice": false, "zero": false}, "axis": null},
  "y2": {"datum": -0.043}
 }},
{"data": {"name": "legend"}, "transform": [{"filter": "datum.panel == 'N'"}],
 "mark": {"type": "rule", "strokeWidth": 3},
 "encoding": {
  "x": {"datum": 101.76, "type": "quantitative", "scale": {"domain": [0, 100], "range": [159, 1692], "nice": false, "zero": false}, "axis": null},
  "x2": {"datum": 109.79},
  "y": {"field": "series", "type": "nominal", "scale": {"type": "point", "domain": ["total","left","right"], "range": [89, 284], "padding": 0}, "axis": null},
  "color": {"field": "series", "type": "nominal", "scale": {"domain": ["total","left","right"], "range": ["#000000","#0000ff","#00ff00"]}, "legend": null}
 }},
{"data": {"name": "legend"}, "transform": [{"filter": "datum.panel == 'N'"}],
 "mark": {"type": "text", "text": "F\u0302", "font": "DejaVu Serif", "fontStyle": "italic", "fontSize": 50, "align": "left", "baseline": "alphabetic", "dy": 21, "color": "#000000"},
 "encoding": {
  "x": {"datum": 110.3, "type": "quantitative", "scale": {"domain": [0, 100], "range": [159, 1692], "nice": false, "zero": false}, "axis": null},
  "y": {"field": "series", "type": "nominal", "scale": {"type": "point", "domain": ["total","left","right"], "range": [89, 284], "padding": 0}, "axis": null}
 }},
{"data": {"name": "legend"}, "transform": [{"filter": "datum.panel == 'N'"}],
 "mark": {"type": "text", "font": "DejaVu Serif", "fontStyle": "italic", "fontSize": 38, "align": "left", "baseline": "alphabetic", "dx": 36, "dy": -5, "color": "#000000"},
 "encoding": {
  "x": {"datum": 110.3, "type": "quantitative", "scale": {"domain": [0, 100], "range": [159, 1692], "nice": false, "zero": false}, "axis": null},
  "y": {"field": "series", "type": "nominal", "scale": {"type": "point", "domain": ["total","left","right"], "range": [89, 284], "padding": 0}, "axis": null},
  "text": {"field": "sup"}
 }},
{"data": {"name": "legend"}, "transform": [{"filter": "datum.panel == 'N'"}],
 "mark": {"type": "text", "font": "DejaVu Serif", "fontStyle": "italic", "fontSize": 34, "align": "left", "baseline": "alphabetic", "dx": 36, "dy": 40, "color": "#000000"},
 "encoding": {
  "x": {"datum": 110.3, "type": "quantitative", "scale": {"domain": [0, 100], "range": [159, 1692], "nice": false, "zero": false}, "axis": null},
  "y": {"field": "series", "type": "nominal", "scale": {"type": "point", "domain": ["total","left","right"], "range": [89, 284], "padding": 0}, "axis": null},
  "text": {"field": "sub"}
 }},
{"data": {"name": "legend"}, "transform": [{"filter": "datum.panel == 'S' && datum.series == 'total'"}],
 "mark": {"type": "rect", "fill": "white", "stroke": "#111111", "strokeWidth": 3},
 "encoding": {
  "x": {"datum": 101.11, "type": "quantitative", "scale": {"domain": [0, 100], "range": [159, 1692], "nice": false, "zero": false}, "axis": null},
  "x2": {"datum": 120.75},
  "y": {"datum": 0.5975, "type": "quantitative", "scale": {"domain": [-0.03, 0.673], "range": [770.1, 400.3], "nice": false, "zero": false}, "axis": null},
  "y2": {"datum": 0.0386}
 }},
{"data": {"name": "legend"}, "transform": [{"filter": "datum.panel == 'S'"}],
 "mark": {"type": "rule", "strokeWidth": 3},
 "encoding": {
  "x": {"datum": 101.76, "type": "quantitative", "scale": {"domain": [0, 100], "range": [159, 1692], "nice": false, "zero": false}, "axis": null},
  "x2": {"datum": 109.79},
  "y": {"field": "series", "type": "nominal", "scale": {"type": "point", "domain": ["total","left","right"], "range": [488, 684], "padding": 0}, "axis": null},
  "color": {"field": "series", "type": "nominal", "scale": {"domain": ["total","left","right"], "range": ["#000000","#0000ff","#00ff00"]}, "legend": null}
 }},
{"data": {"name": "legend"}, "transform": [{"filter": "datum.panel == 'S'"}],
 "mark": {"type": "text", "text": "F\u0302", "font": "DejaVu Serif", "fontStyle": "italic", "fontSize": 50, "align": "left", "baseline": "alphabetic", "dy": 21, "color": "#000000"},
 "encoding": {
  "x": {"datum": 110.3, "type": "quantitative", "scale": {"domain": [0, 100], "range": [159, 1692], "nice": false, "zero": false}, "axis": null},
  "y": {"field": "series", "type": "nominal", "scale": {"type": "point", "domain": ["total","left","right"], "range": [488, 684], "padding": 0}, "axis": null}
 }},
{"data": {"name": "legend"}, "transform": [{"filter": "datum.panel == 'S'"}],
 "mark": {"type": "text", "font": "DejaVu Serif", "fontStyle": "italic", "fontSize": 36, "align": "left", "baseline": "alphabetic", "dx": 36, "dy": -9, "color": "#000000"},
 "encoding": {
  "x": {"datum": 110.3, "type": "quantitative", "scale": {"domain": [0, 100], "range": [159, 1692], "nice": false, "zero": false}, "axis": null},
  "y": {"field": "series", "type": "nominal", "scale": {"type": "point", "domain": ["total","left","right"], "range": [488, 684], "padding": 0}, "axis": null},
  "text": {"field": "sup"}
 }},
{"data": {"name": "legend"}, "transform": [{"filter": "datum.panel == 'S'"}],
 "mark": {"type": "text", "font": "DejaVu Serif", "fontStyle": "italic", "fontSize": 33, "align": "left", "baseline": "alphabetic", "dx": 36, "dy": 36, "color": "#000000"},
 "encoding": {
  "x": {"datum": 110.3, "type": "quantitative", "scale": {"domain": [0, 100], "range": [159, 1692], "nice": false, "zero": false}, "axis": null},
  "y": {"field": "series", "type": "nominal", "scale": {"type": "point", "domain": ["total","left","right"], "range": [488, 684], "padding": 0}, "axis": null},
  "text": {"field": "sub"}
 }},
{"data": {"name": "titles"},
 "mark": {"type": "text", "text": "F\u0302", "font": "DejaVu Serif", "fontStyle": "italic", "fontSize": 48, "angle": 270, "align": "left", "baseline": "alphabetic", "color": "#000000"},
 "encoding": {
  "x": {"datum": -5.85, "type": "quantitative", "scale": {"domain": [0, 100], "range": [159, 1692], "nice": false, "zero": false}, "axis": null},
  "y": {"field": "panel", "type": "nominal", "scale": {"type": "point", "domain": ["N","S"], "range": [291, 741], "padding": 0}, "axis": null}
 }},
{"data": {"name": "titles"},
 "mark": {"type": "text", "text": "j", "font": "DejaVu Serif", "fontStyle": "italic", "fontSize": 30, "angle": 270, "align": "left", "baseline": "alphabetic", "dx": 35, "dy": -25, "color": "#000000"},
 "encoding": {
  "x": {"datum": -5.85, "type": "quantitative", "scale": {"domain": [0, 100], "range": [159, 1692], "nice": false, "zero": false}, "axis": null},
  "y": {"field": "panel", "type": "nominal", "scale": {"type": "point", "domain": ["N","S"], "range": [291, 741], "padding": 0}, "axis": null}
 }},
{"data": {"name": "titles"},
 "mark": {"type": "text", "font": "DejaVu Serif", "fontStyle": "italic", "fontSize": 32, "angle": 270, "align": "left", "baseline": "alphabetic", "dx": 35, "dy": 13, "color": "#000000"},
 "encoding": {
  "x": {"datum": -5.85, "type": "quantitative", "scale": {"domain": [0, 100], "range": [159, 1692], "nice": false, "zero": false}, "axis": null},
  "y": {"field": "panel", "type": "nominal", "scale": {"type": "point", "domain": ["N","S"], "range": [291, 741], "padding": 0}, "axis": null},
  "text": {"field": "sub"}
 }},
{"data": {"name": "titles"}, "transform": [{"filter": "datum.panel == 'N'"}],
 "mark": {"type": "text", "text": "( \u2014 )", "font": "DejaVu Serif", "fontSize": 48, "angle": 270, "align": "left", "baseline": "alphabetic", "dx": 84, "dy": 2, "color": "#000000"},
 "encoding": {
  "x": {"datum": -5.85, "type": "quantitative", "scale": {"domain": [0, 100], "range": [159, 1692], "nice": false, "zero": false}, "axis": null},
  "y": {"field": "panel", "type": "nominal", "scale": {"type": "point", "domain": ["N","S"], "range": [291, 741], "padding": 0}, "axis": null}
 }},
{"data": {"name": "titles"}, "transform": [{"filter": "datum.panel == 'S'"}],
 "mark": {"type": "text", "text": "(\u2014)", "font": "DejaVu Serif", "fontSize": 48, "angle": 270, "align": "left", "baseline": "alphabetic", "dx": 150, "dy": 2, "color": "#000000"},
 "encoding": {
  "x": {"datum": -5.85, "type": "quantitative", "scale": {"domain": [0, 100], "range": [159, 1692], "nice": false, "zero": false}, "axis": null},
  "y": {"field": "panel", "type": "nominal", "scale": {"type": "point", "domain": ["N","S"], "range": [291, 741], "padding": 0}, "axis": null}
 }}
]
}
